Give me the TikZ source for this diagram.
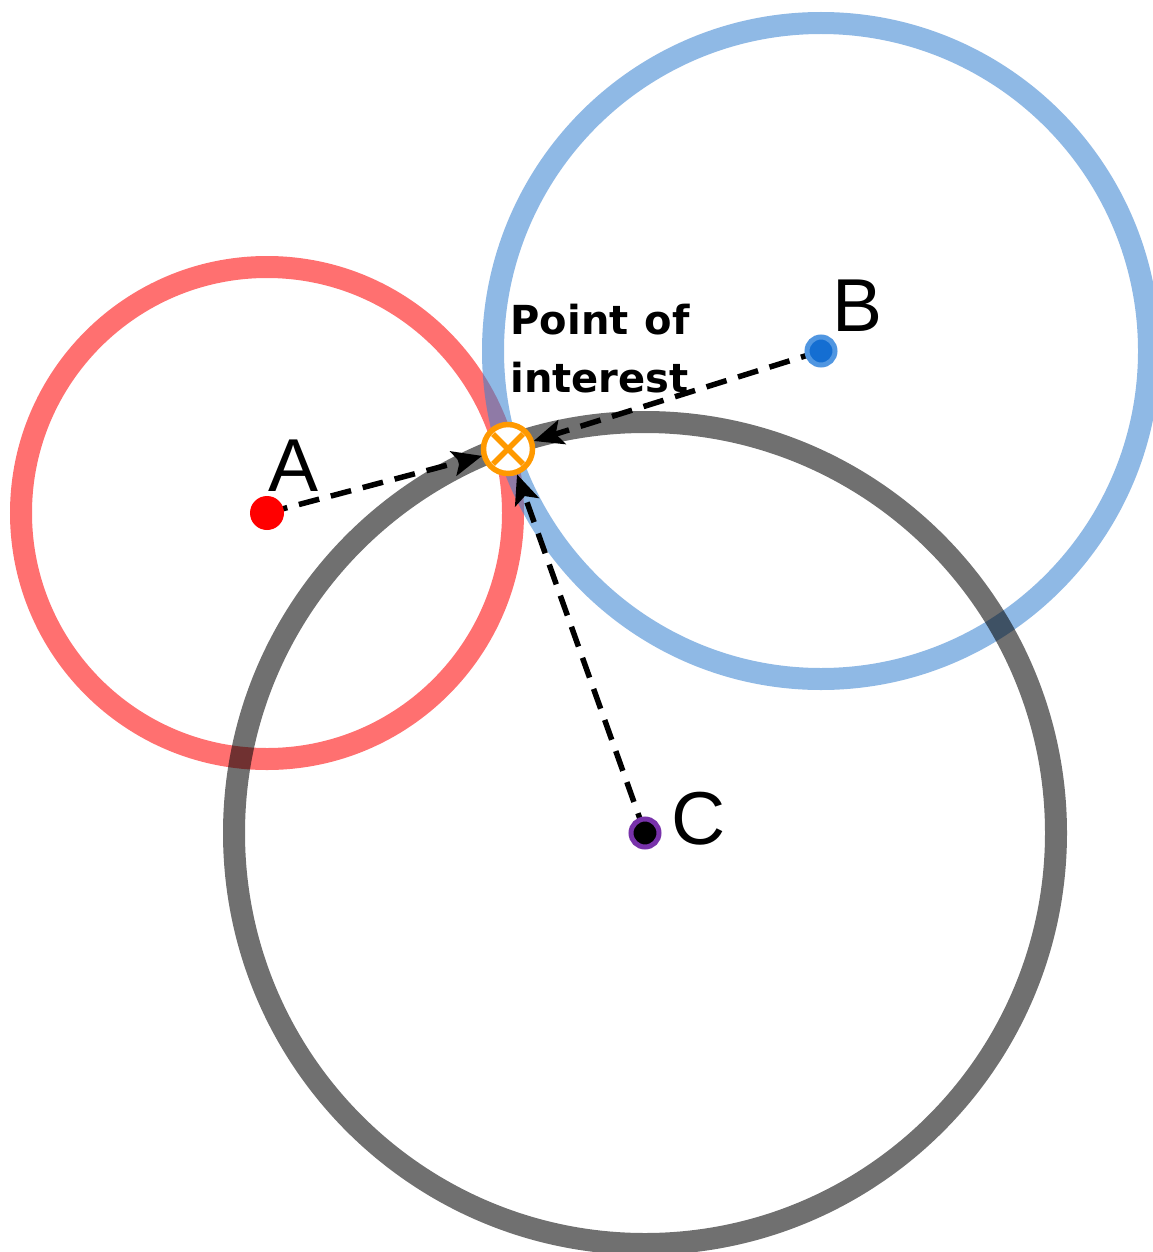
\documentclass[tikz,border=0pt]{standalone}
\usepackage{fontspec}
\setmainfont{Liberation Sans}
\newfontfamily\poifont{DejaVu Sans}
\usetikzlibrary{calc}
\definecolor{ringred}{RGB}{255,0,0}
\definecolor{ringblue}{RGB}{57,131,210}
\definecolor{poiorange}{RGB}{255,153,0}
\definecolor{dotblue}{RGB}{20,110,210}
\definecolor{dotblueout}{RGB}{80,150,225}
\definecolor{dotpurple}{RGB}{120,50,170}
\tikzset{
  ring/.style={line width=22pt, opacity=0.56},
  ptr/.style={line width=5.5pt, dash pattern=on 21pt off 12pt, shorten >=20pt},
  tiphead/.style={fill=black},
  letter/.style={font=\fontsize{75}{75}\selectfont, inner sep=0pt},
  cross/.style={poiorange, line width=5.5pt},
}
\begin{document}
\begin{tikzpicture}[x=1pt,y=-1pt]
\useasboundingbox (0,0) rectangle (1152,1252);
\fill[white] (0,0) rectangle (1152,1252);
% centres
\coordinate (A) at (267,513);
\coordinate (B) at (821,351);
\coordinate (C) at (645,833);
% rings
\draw[ring, ringred] (A) circle[radius=246];
\draw[ring, ringblue] (B) circle[radius=328];
\draw[ring, black] (C) circle[radius=411];
% point of interest
\node[circle, draw=poiorange, line width=5.5pt, fill=white, minimum size=49pt, inner sep=0pt] (P) at (508,449) {};
\coordinate (x1) at ($(P.center)+(-15,-15)$);
\coordinate (x2) at ($(P.center)+(15,15)$);
\coordinate (x3) at ($(P.center)+(15,-15)$);
\coordinate (x4) at ($(P.center)+(-15,15)$);
\draw[cross] (x1) -- (x2);
\draw[cross] (x3) -- (x4);
% pointers
\draw[ptr] (A) -- (P);
\draw[ptr] (B) -- (P);
\draw[ptr] (C) -- (P);
\foreach \s in {A,B,C}{
  \coordinate (T\s) at ($(P.center)!27pt!(\s)$);
  \coordinate (M\s) at ($(P.center)!57pt!(\s)$);
  \coordinate (I\s) at ($(P.center)!50pt!(\s)$);
  \fill[tiphead] (T\s) -- ($(M\s)!13pt!90:(T\s)$) -- (I\s) -- ($(M\s)!13pt!-90:(T\s)$) -- cycle;
}
% dots
\node[circle, fill=ringred, minimum size=34pt, inner sep=0pt] (dA) at (A) {};
\node[circle, fill=dotblue, draw=dotblueout, line width=5pt, minimum size=28pt, inner sep=0pt] (dB) at (B) {};
\node[circle, fill=black, draw=dotpurple, line width=5pt, minimum size=28pt, inner sep=0pt] (dC) at (C) {};
% labels
\node[letter] (lA) at (294,466) {A};
\node[letter] (lB) at (857,306) {B};
\node[letter] (lC) at (699,819) {C};
\node[font=\poifont\bfseries\fontsize{40}{58}\selectfont, align=left, inner sep=0pt] (lP) at (600,349) {Point\hspace{0.4em}of\\interest};
\end{tikzpicture}
\end{document}
